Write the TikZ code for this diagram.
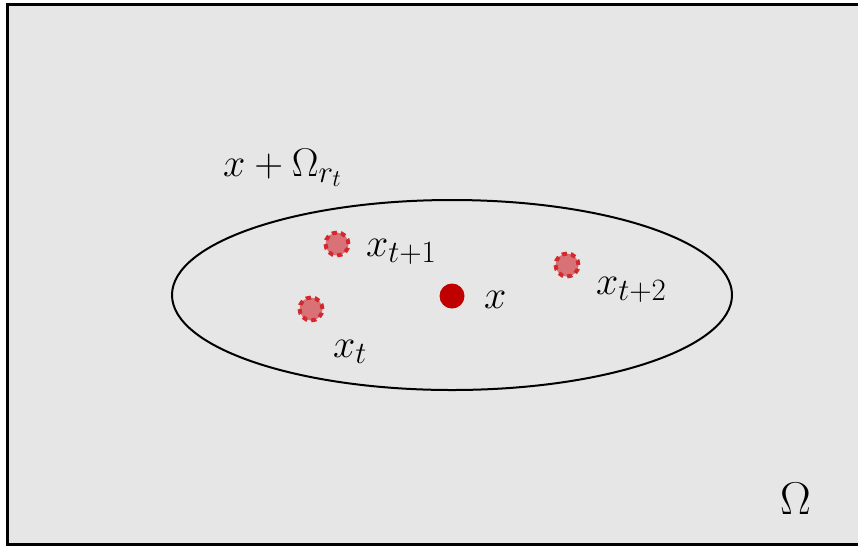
\RequirePackage{fix-cm}
\documentclass[tikz,border=0pt]{standalone}
\DeclareMathSizes{40}{40}{31}{24}
\DeclareMathSizes{46}{46}{34}{26}
\begin{document}
\begin{tikzpicture}[x=1pt,y=-1pt,
  lbl/.style={anchor=base west,inner sep=0pt,font=\fontsize{40}{44}\selectfont},
  pt/.style={circle,minimum size=23pt,inner sep=0pt,fill=ptfill,draw=ptline,line width=4pt,dash pattern=on 5pt off 4pt},
]
\definecolor{bg}{RGB}{230,230,230}
\definecolor{ptfill}{RGB}{216,114,118}
\definecolor{ptline}{RGB}{212,40,46}
\definecolor{dotred}{RGB}{192,0,0}
\useasboundingbox (0,0) rectangle (858,547);
\fill[white] (0,0) rectangle (858,547);
\begin{scope}
\clip (0,0) rectangle (858,547);
\draw[fill=bg,line width=3pt] (7,4) rectangle (875,544);
\end{scope}
\draw[line width=2pt] (452,295) ellipse [x radius=280pt, y radius=95pt];
\node[circle,fill=dotred,minimum size=25pt,inner sep=0pt] (x0) at (452,296) {};
\node[pt] (p1) at (337,244) {};
\node[pt] (p0) at (311,309) {};
\node[pt] (p2) at (567,265) {};
\node[lbl] (lx0) at (484,308) {$x$};
\node[lbl] (lx1) at (366,256) {$x_{t+1}$};
\node[lbl] (lxt) at (333,357) {$x_t$};
\node[lbl] (lx2) at (596,294) {$x_{t+2}$};
\node[lbl] (lset) at (223,176) {$x+\Omega_{r_t}$};
\node[anchor=base west,inner sep=0pt,font=\fontsize{46}{50}\selectfont] (om) at (780,514) {$\Omega$};
\end{tikzpicture}
\end{document}
